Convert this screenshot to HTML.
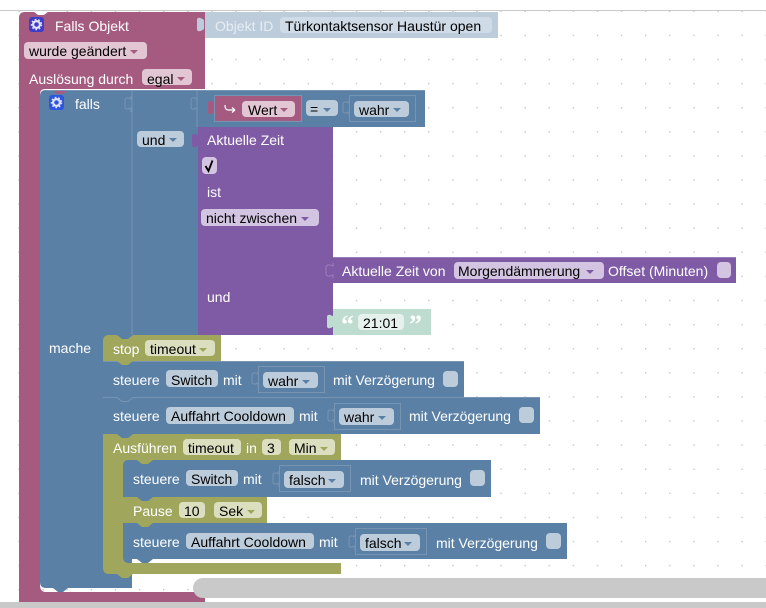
<!DOCTYPE html>
<html>
<head>
<meta charset="utf-8">
<style>
html,body{margin:0;padding:0;background:#fff;width:766px;height:608px;overflow:hidden}
svg{display:block;position:absolute;left:0;top:0;filter:blur(.3px)}
text{font-family:"Liberation Sans",sans-serif;font-size:14px;fill:#fff}
text.k{fill:#000}
text.s{fill:#e6edf3}
.P{fill:#a55b7f}.B{fill:#5b80a5}.V{fill:#805ba5}.O{fill:#a0a65b}
.fp{fill:#e2c6d3}.fb{fill:#bdccdb}.fv{fill:#d3c5e1}.fo{fill:#dcdfbf}
.fr{fill:none;stroke:#7795b3;stroke-width:1}
.hl{stroke:#7795b3;stroke-width:1;fill:none}
</style>
</head>
<body>
<svg width="766" height="608" viewBox="0 0 766 608" xmlns="http://www.w3.org/2000/svg">
<defs>
<pattern id="g" x="18.4" y="10.6" width="24.1" height="24.1" patternUnits="userSpaceOnUse">
<rect x="0" y="0" width="1.4" height="1.4" fill="#c6c6c6"/>
</pattern>
<path id="t" d="M1 0V3C-3 0-6 0-6 3V12C-6 15-3 15 1 12V17H1Z"/>
<path id="n" d="M-8 0L-3 4H3L8 0Z"/>
<path id="o" d="M0 0V3C-4 1-6 2-6 4V11C-6 13-4 14 0 12V16" fill="none" stroke="#7795b3" stroke-width="1"/>
<path id="a" d="M0 0H8L4 4Z"/>
</defs>

<rect x="0" y="10" width="766" height="592" fill="url(#g)"/>
<rect x="0" y="10" width="766" height="1" fill="#c9c9c9"/>

<!-- pink event block -->
<path class="P" d="M25 12H205V89H45Q40 89 40 94V585Q40 592 46 592H205V602H19V18Q19 12 25 12Z"/>
<path d="M33 11H49L44 15H38Z" fill="#fff"/>
<use href="#t" x="203" y="17" fill="#bdccdb"/>
<rect x="205" y="12" width="293" height="26" fill="#bdccdb"/>
<rect x="280" y="17" width="212" height="16" rx="4" fill="#cfdbe6"/>
<rect x="29" y="17" width="15" height="15" rx="3" fill="#3d3dc8"/>
<circle cx="36.5" cy="24.5" r="3.4" fill="none" stroke="#e4e4f8" stroke-width="2.2"/>
<circle cx="36.5" cy="24.5" r="5" fill="none" stroke="#e4e4f8" stroke-width="1.4" stroke-dasharray="1.7 1.9"/>
<text x="55" y="31">Falls Objekt</text>
<text class="s" x="215" y="31">Objekt ID</text>
<text class="k" x="285" y="31">Türkontaktsensor Haustür open</text>
<rect class="fp" x="24" y="42" width="123" height="17" rx="4"/>
<text class="k" x="29" y="56">wurde geändert</text>
<use href="#a" x="130" y="50" fill="#a55b7f"/>
<text x="29" y="84">Auslösung durch</text>
<rect class="fp" x="142" y="69" width="50" height="16" rx="4"/>
<text class="k" x="147" y="84">egal</text>
<use href="#a" x="177" y="77" fill="#a55b7f"/>

<!-- falls block -->
<path class="B" d="M46 90H425V127H198V335H132V577H132V588H46Q40 588 40 582V96Q40 90 46 90Z"/>
<path class="P" d="M52 90H68L63 94H57Z"/>
<path class="B" d="M53 588H68L63 592H58Z"/>
<path class="hl" d="M132 90V335M197 90V127"/>
<path class="hl" d="M46 90.5H425"/>
<use href="#o" x="131" y="96"/>
<use href="#o" x="197" y="96"/>
<rect x="49" y="95" width="15" height="15" rx="3" fill="#2f55e0"/>
<circle cx="56.5" cy="102.5" r="3.4" fill="none" stroke="#e0e6fa" stroke-width="2.2"/>
<circle cx="56.5" cy="102.5" r="5" fill="none" stroke="#e0e6fa" stroke-width="1.4" stroke-dasharray="1.7 1.9"/>
<text x="75" y="109">falls</text>
<rect class="fb" x="137" y="131" width="47" height="16" rx="4"/>
<text class="k" x="142" y="145">und</text>
<use href="#a" x="169" y="138" fill="#5b80a5"/>
<text x="49" y="353">mache</text>

<!-- Wert = wahr -->
<use href="#t" x="214" y="100" fill="#a55b7f"/>
<rect class="P" x="214" y="95" width="88" height="27"/>
<rect x="214.500" y="95.500" width="87" height="26" fill="none" stroke="#7795b3"/>
<path d="M235 110H228Q225 110 225 105M235 110L232 107.500M235 110L232 112.500" fill="none" stroke="#fff" stroke-width="1.2"/>
<rect class="fp" x="242" y="101" width="53" height="16" rx="4"/>
<text class="k" x="248" y="115">Wert</text>
<use href="#a" x="280" y="108" fill="#a55b7f"/>
<rect class="fb" x="306" y="100" width="32" height="16" rx="4"/>
<text class="k" x="310" y="114">=</text>
<use href="#a" x="323" y="108" fill="#5b80a5"/>
<use href="#o" x="349" y="100"/>
<rect class="fr" x="349.500" y="95.500" width="66" height="26"/>
<rect class="fb" x="354" y="101" width="55" height="16" rx="4"/>
<text class="k" x="359" y="115">wahr</text>
<use href="#a" x="393" y="108" fill="#5b80a5"/>

<!-- purple time block -->
<use href="#t" x="198" y="133" fill="#805ba5"/>
<rect class="V" x="198" y="127" width="135" height="208"/>
<text x="207" y="145">Aktuelle Zeit</text>
<rect class="fv" x="202" y="157" width="15" height="17" rx="4"/>
<path d="M205.500 166L208.500 171L212.500 160.500" fill="none" stroke="#000" stroke-width="1.8"/>
<text x="207" y="197">ist</text>
<rect class="fv" x="201" y="209" width="118" height="17" rx="4"/>
<text class="k" x="206" y="223">nicht zwischen</text>
<use href="#a" x="301" y="217" fill="#805ba5"/>
<text x="207" y="302">und</text>

<rect class="V" x="333" y="257" width="403" height="26"/>
<path d="M333 257.500H736" stroke="#9a7cbb" fill="none"/>
<path d="M333 263V266C329 264 326 265 326 267V274C326 276 329 277 333 275V278" fill="#805ba5" stroke="#9a7cbb"/>
<text x="342" y="276">Aktuelle Zeit von</text>
<rect class="fv" x="454" y="262" width="150" height="17" rx="4"/>
<text class="k" x="458" y="276">Morgendämmerung</text>
<use href="#a" x="586" y="270" fill="#805ba5"/>
<text x="608" y="276">Offset (Minuten)</text>
<rect class="fv" x="717" y="262" width="14" height="16" rx="4"/>

<use href="#t" x="333" y="314" fill="#bfdcd1"/>
<rect x="333" y="309" width="98" height="26" fill="#bfdcd1"/>
<text x="341" y="333" style="font-family:'Liberation Serif',serif;font-size:26px;font-weight:bold" fill="#fff">“</text>
<rect x="358" y="314" width="46" height="16" rx="4" fill="#e6f1ed"/>
<text class="k" x="363" y="328">21:01</text>
<text x="409" y="333" style="font-family:'Liberation Serif',serif;font-size:26px;font-weight:bold" fill="#fff">”</text>

<!-- stop -->
<path class="O" d="M109 335H221V361H103V341Q103 335 109 335Z"/>
<path class="B" d="M117 335H133L128 339H122Z"/>
<text x="113" y="354">stop</text>
<rect class="fo" x="145" y="340" width="70" height="16" rx="4"/>
<text class="k" x="150" y="354">timeout</text>
<use href="#a" x="199" y="348" fill="#a0a65b"/>

<!-- steuere 1 -->
<rect class="B" x="103" y="361" width="361" height="36"/>
<path class="hl" d="M103 361.500H464"/>
<use href="#n" x="125" y="361" fill="#a0a65b"/>
<text x="113" y="385">steuere</text>
<rect class="fb" x="166" y="370" width="52" height="17" rx="4"/>
<text class="k" x="171" y="385">Switch</text>
<text x="223" y="385">mit</text>
<use href="#o" x="258" y="371"/>
<rect class="fr" x="258.500" y="366.500" width="66" height="26"/>
<rect class="fb" x="263" y="372" width="55" height="16" rx="4"/>
<text class="k" x="268" y="386">wahr</text>
<use href="#a" x="302" y="380" fill="#5b80a5"/>
<text x="333" y="385">mit Verzögerung</text>
<rect class="fb" x="443" y="371" width="15" height="16" rx="4"/>

<!-- steuere 2 -->
<rect class="B" x="103" y="397" width="437" height="37"/>
<path class="hl" d="M103 397.500H117L122 401.500H128L133 397.500H540"/>
<text x="113" y="421">steuere</text>
<rect class="fb" x="166" y="407" width="128" height="17" rx="4"/>
<text class="k" x="171" y="421">Auffahrt Cooldown</text>
<text x="299" y="421">mit</text>
<use href="#o" x="334" y="408"/>
<rect class="fr" x="334.500" y="403.500" width="66" height="26"/>
<rect class="fb" x="339" y="408" width="55" height="17" rx="4"/>
<text class="k" x="344" y="422">wahr</text>
<use href="#a" x="378" y="416" fill="#5b80a5"/>
<text x="409" y="421">mit Verzögerung</text>
<rect class="fb" x="519" y="407" width="15" height="16" rx="4"/>

<!-- Ausfuehren -->
<path class="O" d="M103 434H341V460H129Q123 460 123 466V557Q123 563 129 563H341V574H109Q103 574 103 568Z"/>
<use href="#n" x="125" y="434" fill="#5b80a5"/>
<path class="O" d="M117 574H133L128 578H122Z"/>
<text x="113" y="453">Ausführen</text>
<rect class="fo" x="183" y="439" width="58" height="16" rx="4"/>
<text class="k" x="188" y="453">timeout</text>
<text x="246" y="453">in</text>
<rect class="fo" x="262" y="439" width="19" height="16" rx="4"/>
<text class="k" x="267" y="453">3</text>
<rect class="fo" x="289" y="439" width="46" height="16" rx="4"/>
<text class="k" x="294" y="453">Min</text>
<use href="#a" x="320" y="447" fill="#a0a65b"/>

<!-- inner steuere Switch -->
<path class="B" d="M129 460H491V497H123V466Q123 460 129 460Z"/>
<path class="O" d="M137 460H153L148 464H142Z"/>
<text x="133" y="484">steuere</text>
<rect class="fb" x="186" y="470" width="52" height="16" rx="4"/>
<text class="k" x="191" y="484">Switch</text>
<text x="243" y="484">mit</text>
<use href="#o" x="279" y="471"/>
<rect class="fr" x="279.500" y="465.500" width="71" height="26"/>
<rect class="fb" x="284" y="471" width="60" height="17" rx="4"/>
<text class="k" x="289" y="485">falsch</text>
<use href="#a" x="328" y="479" fill="#5b80a5"/>
<text x="360" y="485">mit Verzögerung</text>
<rect class="fb" x="470" y="470" width="15" height="16" rx="4"/>

<!-- Pause -->
<rect class="O" x="123" y="497" width="144" height="26"/>
<use href="#n" x="145" y="497" fill="#5b80a5"/>
<text x="133" y="516">Pause</text>
<rect class="fo" x="179" y="502" width="26" height="16" rx="4"/>
<text class="k" x="184" y="516">10</text>
<rect class="fo" x="214" y="502" width="48" height="16" rx="4"/>
<text class="k" x="219" y="516">Sek</text>
<use href="#a" x="247" y="510" fill="#a0a65b"/>

<!-- inner steuere 3 -->
<path class="B" d="M123 523H567V559H129Q123 559 123 553Z"/>
<path class="O" d="M137 523H153L148 527H142Z"/>
<path class="B" d="M137 559H153L148 563H142Z"/>
<text x="133" y="547">steuere</text>
<rect class="fb" x="186" y="533" width="128" height="16" rx="4"/>
<text class="k" x="191" y="547">Auffahrt Cooldown</text>
<text x="319" y="547">mit</text>
<use href="#o" x="355" y="534"/>
<rect class="fr" x="355.500" y="528.500" width="71" height="26"/>
<rect class="fb" x="360" y="534" width="60" height="17" rx="4"/>
<text class="k" x="365" y="548">falsch</text>
<use href="#a" x="404" y="542" fill="#5b80a5"/>
<text x="436" y="548">mit Verzögerung</text>
<rect class="fb" x="546" y="533" width="15" height="16" rx="4"/>

<!-- scrollbars -->
<path d="M203 578H766V598H203A10 10 0 0 1 203 578Z" fill="#c9c9c9"/>
<rect x="0" y="602" width="766" height="6" fill="#c9c9c9"/>
</svg>
</body>
</html>
